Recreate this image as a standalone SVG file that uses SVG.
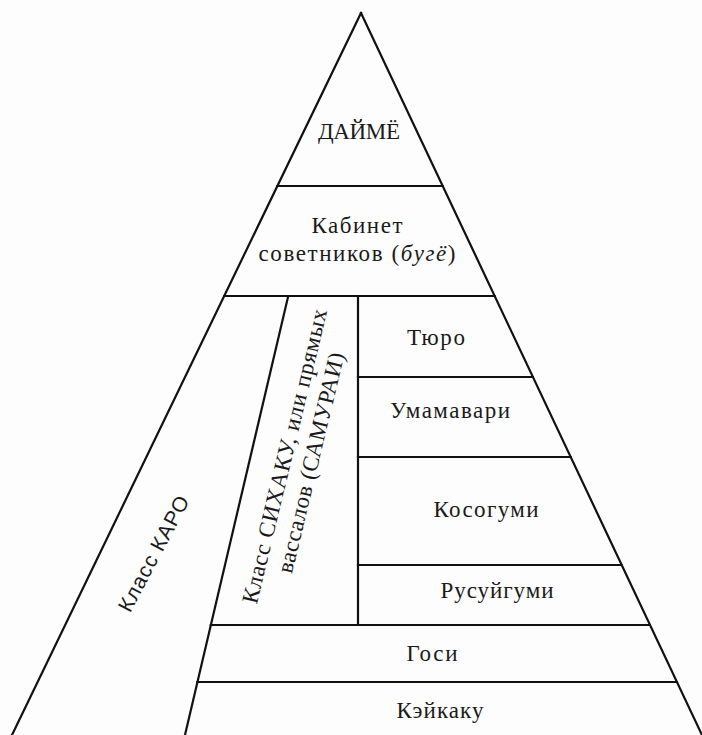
<svg xmlns="http://www.w3.org/2000/svg" width="702" height="735" viewBox="0 0 702 735">
<style>
.ln{stroke:#111;stroke-width:2.2;fill:none;stroke-linecap:square}
.t{font-family:"Liberation Serif","DejaVu Serif",serif;font-size:23px;fill:#1a1a1a;text-anchor:middle}
.s{font-family:"Liberation Sans","DejaVu Sans",sans-serif;font-size:21px;fill:#1a1a1a;text-anchor:middle}
</style>
<rect width="702" height="735" fill="#fdfdfd"/>
<g id="connectors">
<line class="ln" x1="361" y1="13" x2="12" y2="735"/>
<line class="ln" x1="361" y1="13" x2="702" y2="735"/>
<line class="ln" x1="277.4" y1="186" x2="442.7" y2="186"/>
<line class="ln" x1="224.3" y1="296" x2="494.6" y2="296"/>
<line class="ln" x1="288" y1="297" x2="185" y2="735"/>
<line class="ln" x1="358" y1="296" x2="358" y2="625"/>
<line class="ln" x1="358" y1="377" x2="532.8" y2="377"/>
<line class="ln" x1="358" y1="457" x2="570.6" y2="457"/>
<line class="ln" x1="358" y1="565" x2="621.5" y2="565"/>
<line class="ln" x1="210.8" y1="625" x2="649.9" y2="625"/>
<line class="ln" x1="197.4" y1="682" x2="676.8" y2="682"/>
</g>
<g id="daimyo"><text class="t" x="359" y="139" textLength="82">ДАЙМЁ</text></g>
<g id="bugyo">
<text class="t" x="357" y="233" textLength="91">Кабинет</text>
<text class="t" x="357" y="261" textLength="197">советников (<tspan font-style="italic">бугё</tspan>)</text>
</g>
<g id="karo"><text class="s" transform="translate(160,557) rotate(-62)" x="0" y="0" textLength="128">Класс КАРО</text></g>
<g id="shihaku" transform="translate(292,458) rotate(-76.5)">
<text class="t" x="0" y="0" textLength="302">Класс СИХАКУ, или прямых</text>
<text class="t" x="0" y="27" textLength="226">вассалов (САМУРАИ)</text>
</g>
<g id="tyuro"><text class="t" x="436" y="345" textLength="58">Тюро</text></g>
<g id="umamawari"><text class="t" x="450" y="418" textLength="120">Умамавари</text></g>
<g id="kosogumi"><text class="t" x="486" y="517" textLength="105">Косогуми</text></g>
<g id="rusuigumi"><text class="t" x="497" y="598" textLength="113">Русуйгуми</text></g>
<g id="goshi"><text class="t" x="432" y="661" textLength="51">Госи</text></g>
<g id="keikaku"><text class="t" x="440" y="718" textLength="87">Кэйкаку</text></g>
</svg>
